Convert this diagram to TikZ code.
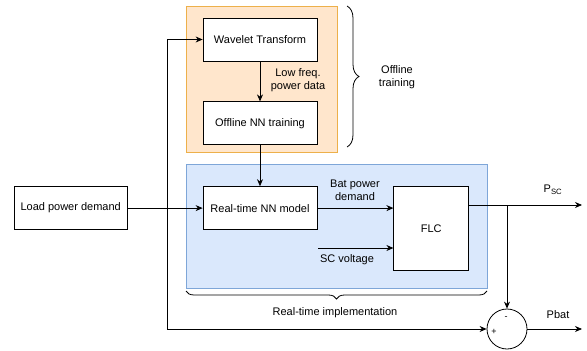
\documentclass[tikz,border=0pt]{standalone}
\usepackage{fontspec}
\setmainfont{Liberation Sans}
\usetikzlibrary{arrows.meta, positioning, decorations.pathreplacing}
\definecolor{offfill}{HTML}{FFE6CC}
\definecolor{offline}{HTML}{EDB04A}
\definecolor{rtfill}{HTML}{DAE8FC}
\definecolor{rtline}{HTML}{7EA6D8}

\begin{document}
\begin{tikzpicture}[x=1pt,y=-1pt,node distance=40pt,>={Stealth[length=7pt,width=6pt]},
 line width=0.8pt,font=\fontsize{11}{13}\selectfont,
 block/.style={rectangle,draw,fill=white,minimum width=114pt,minimum height=43pt},
 sumnode/.style={circle,draw,fill=white,minimum size=40pt,inner sep=0pt},
 lbl/.style={align=center,inner sep=1pt}]
  \useasboundingbox (0,0) rectangle (587,351);

  % the two stages
  \filldraw[fill=offfill,draw=offline] (186,6) rectangle (337,152);
  \filldraw[fill=rtfill,draw=rtline] (186,164) rectangle (487,288);
  \draw[decorate,decoration={brace,amplitude=12pt}] (347,6) -- (347,147);
  \draw[decorate,decoration={brace,amplitude=8pt}] (487,291) -- (186,291);

  \node[block] (wt) at (260,39.5) {Wavelet Transform};
  \node[block] (onn) [below=of wt] {Offline NN training};
  \node[block] (rtnn) [below=41pt of onn] {Real-time NN model};
  \node[block,minimum width=113pt] (load) [left=75pt of rtnn] {Load power demand};
  \node[block,minimum width=75pt,minimum height=84pt] (flc)
    [right=76pt of rtnn.north east,anchor=north west] {FLC};
  \node[sumnode] (sum) at (507,329) {};

  \coordinate (split) at (167,205);
  \coordinate (scin) at (318,248);
  \coordinate (tap) at (507,205);
  \coordinate (psc) at (582,205);
  \coordinate (pbat) at (582,329);

  \draw[->] (wt) -- (onn);
  \draw[->] (onn) -- (rtnn);
  \draw[->] (load) -- (rtnn);
  \draw[->] (split) |- (wt);
  \draw[->] (split) |- (sum);
  \draw[->] (rtnn.east) -- (rtnn.east -| flc.west);
  \draw[->] (scin) -- (scin -| flc.west);
  \draw[->] (flc.east |- psc) -- (psc);
  \draw[->] (tap) -- (sum);
  \draw[->] (sum) -- (pbat);

  \node[lbl] (lowf) at (298,80) {Low freq.\\power data};
  \node[lbl] (batd) at (355,190) {Bat power\\demand};
  \node[lbl] (scv) at (347,260) {SC voltage};
  \node[lbl] (offt) at (397,77) {Offline\\training};
  \node[lbl] (rti) at (335,313) {Real-time implementation};
  \node[lbl] (pscl) at (553,190) {P\textsubscript{SC}};
  \node[lbl] (pbatl) at (558,315) {Pbat};
  \node[font=\fontsize{9}{10}\selectfont] (minus) at (506,318) {-};
  \node[font=\fontsize{9}{10}\selectfont] (plus) at (494,332) {+};
\end{tikzpicture}
\end{document}
